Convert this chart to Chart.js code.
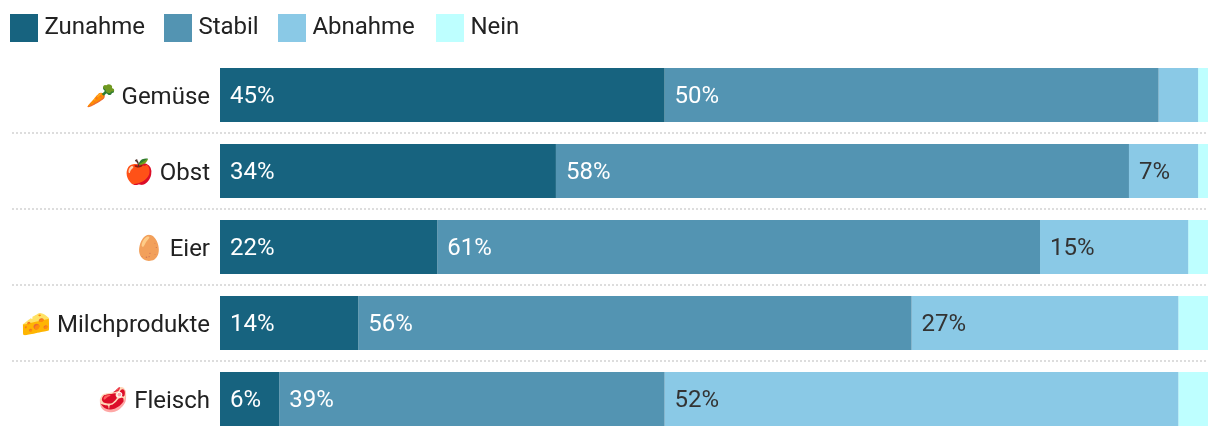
<!DOCTYPE html>
<html>
<head>
<meta charset="utf-8">
<style>
  html, body { margin: 0; padding: 0; background: #fff; }
  #wrap { position: relative; width: 1220px; height: 438px; }
  #legend { position: absolute; left: 10px; top: 14px; height: 28px; font: 24px Roboto, sans-serif; color: #222; }
  #legend span { position: absolute; top: 0; line-height: 25px; white-space: nowrap; }
  #legend i { position: absolute; top: 0; width: 28px; height: 28px; }
</style>
<script src="https://cdn.jsdelivr.net/npm/chart.js@4/dist/chart.umd.js"></script>
</head>
<body>
<div id="wrap">
  <canvas id="chart" width="1220" height="438"></canvas>
  <div id="legend"></div>
</div>
<script>
const categories = ["🥕 Gemüse", "🍎 Obst", "🥚 Eier", "🧀 Milchprodukte", "🥩 Fleisch"];
const seriesNames = ["Zunahme", "Stabil", "Abnahme", "Nein"];
const zunahme = [45, 34, 22, 14, 6];
const stabil = [50, 58, 61, 56, 39];
const abnahme = [4, 7, 15, 27, 52];
const nein = [1, 1, 2, 3, 3];
const colors = ["#17637f", "#5394b2", "#8ac9e6", "#beffff"];
const labelColors = ["#ffffff", "#ffffff", "#333333", "#333333"];
const legendOffsets = [0, 154, 268, 426];
const MIN_LABEL = 5;

// swatches and names above the plot
const legend = document.getElementById("legend");
seriesNames.forEach(function (name, i) {
    let box = document.createElement("i");
    box.style.left = legendOffsets[i] + "px";
    box.style.background = colors[i];
    let text = document.createElement("span");
    text.style.left = legendOffsets[i] + 34.4 + "px";
    text.textContent = name;
    legend.appendChild(box);
    legend.appendChild(text);
});

// "45%" inside each bar, left aligned
const barLabels = {
    id: "barLabels",
    afterDatasetsDraw(chart) {
        let ctx = chart.ctx;
        ctx.save();
        ctx.font = "24px Roboto, sans-serif";
        ctx.textAlign = "left";
        ctx.textBaseline = "middle";
        chart.data.datasets.forEach(function (ds, d) {
            ctx.fillStyle = labelColors[d];
            chart.getDatasetMeta(d).data.forEach(function (bar, i) {
                if (ds.data[i] < MIN_LABEL) return;
                ctx.fillText(ds.data[i] + "%", bar.base + 10, bar.y + 2);
            });
        });
        ctx.restore();
    }
};

// dotted rules between the rows, running under the labels too
const rowRules = {
    id: "rowRules",
    beforeDatasetsDraw(chart) {
        let ctx = chart.ctx, y = chart.scales.y;
        ctx.save();
        ctx.strokeStyle = "#dddddd";
        ctx.lineWidth = 2;
        ctx.setLineDash([2, 2]);
        for (let i = 0; i < categories.length - 1; i++) {
            let py = Math.round((y.getPixelForTick(i) + y.getPixelForTick(i + 1)) / 2);
            ctx.beginPath();
            ctx.moveTo(12, py);
            ctx.lineTo(chart.chartArea.right, py);
            ctx.stroke();
        }
        ctx.restore();
    }
};

const values = [zunahme, stabil, abnahme, nein];

new Chart(document.getElementById("chart").getContext("2d"), {
    type: "bar",
    data: {
        labels: categories,
        datasets: seriesNames.map(function (name, i) {
            return {
                label: name,
                data: values[i],
                backgroundColor: colors[i],
                borderWidth: 0,
                barPercentage: 54 / 76,
                categoryPercentage: 1
            };
        })
    },
    options: {
        indexAxis: "y",
        responsive: false,
        animation: false,
        layout: { padding: { top: 57, right: 12, bottom: 1, left: 0 } },
        plugins: {
            legend: { display: false },
            tooltip: { enabled: false }
        },
        scales: {
            x: { stacked: true, display: false, min: 0, max: 100 },
            y: {
                stacked: true,
                grid: { display: false, drawTicks: false },
                border: { display: false },
                afterFit: function (axis) {
                    axis.width = 220;
                    axis.paddingTop = 0;
                    axis.paddingBottom = 0;
                },
                ticks: {
                    padding: 10,
                    labelOffset: 3,
                    color: "#222222",
                    font: { family: "Roboto, sans-serif", size: 24 }
                }
            }
        }
    },
    plugins: [rowRules, barLabels]
});
</script>
</body>
</html>
